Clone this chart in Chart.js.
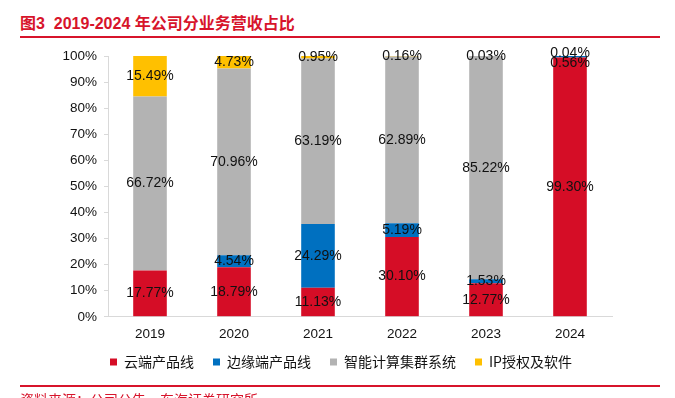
<!DOCTYPE html>
<html>
<head>
<meta charset="utf-8">
<script src="https://cdn.jsdelivr.net/npm/chart.js@4/dist/chart.umd.min.js"></script>
<style>
  html, body { margin: 0; padding: 0; background: #fff; }
  body { width: 675px; height: 398px; position: relative; overflow: hidden; font-family: "Liberation Sans", "Noto Sans CJK SC", sans-serif; }
  #title { position: absolute; left: 20px; top: 10px; font-size: 16px; font-weight: bold; color: #d7142b; white-space: nowrap; font-family: "Liberation Sans", "Noto Sans CJK SC", sans-serif; }
  .rule { position: absolute; left: 20px; width: 640px; height: 2px; background: #d7142b; }
  #source { position: absolute; left: 20px; top: 389px; font-size: 14px; color: #d7142b; white-space: nowrap; font-family: "Noto Sans CJK SC", sans-serif; }
  #wrap { position: absolute; left: 0; top: 0; width: 675px; height: 394px; }
</style>
</head>
<body>
<div id="title">图3&nbsp; 2019-2024 年公司分业务营收占比</div>
<div class="rule" style="top:36px"></div>
<div id="wrap"><canvas id="myChart"></canvas></div>
<div class="rule" style="top:385px"></div>
<div id="source">资料来源：公司公告，东海证券研究所</div>
<script>
(function() {
    'use strict';
    // years and segment shares (%) as printed on the bars
    const years = ['2019', '2020', '2021', '2022', '2023', '2024'];
    const cloudLine = [17.77, 18.79, 11.13, 30.10, 12.77, 99.30];
    const edgeLine = [null, 4.54, 24.29, 5.19, 1.53, 0.56];
    const clusterSystem = [66.72, 70.96, 63.19, 62.89, 85.22, null];
    const ipSoftware = [15.49, 4.73, 0.95, 0.16, 0.03, 0.04];
    const seriesNames = ['云端产品线', '边缘端产品线', '智能计算集群系统', 'IP授权及软件'];
    const seriesColors = ['#d50d26', '#0070c0', '#b3b3b3', '#ffc000'];
    const yTicks = [0, 10, 20, 30, 40, 50, 60, 70, 80, 90, 100];

    const rawSeries = [cloudLine, edgeLine, clusterSystem, ipSoftware];

    // 100% stacked: scale every year to a total of 100
    const totals = years.map(function (y, j) {
      return rawSeries.reduce(function (s, arr) { return s + (arr[j] || 0); }, 0);
    });
    const datasets = rawSeries.map(function (arr, i) {
      return {
        label: seriesNames[i],
        data: arr.map(function (v, j) { return v === null ? null : v / totals[j] * 100; }),
        backgroundColor: seriesColors[i],
        borderWidth: 0,
        categoryPercentage: 1,
        barPercentage: 0.4
      };
    });

    // Draw percentage text in the middle of each segment
    const segmentLabels = {
      id: 'segmentLabels',
      afterLayout: function (chart) {
        // move the legend up and a bit to the right, as in the source chart
        const lg = chart.legend;
        lg.top -= 15;
        lg.bottom -= 15;
        lg.left += 35;
        lg.right += 35;
      },
      afterDatasetsDraw: function (chart) {
        const ctx = chart.ctx;
        ctx.save();
        ctx.font = '14px "Liberation Sans", Arial, sans-serif';
        ctx.fillStyle = '#111';
        ctx.textAlign = 'center';
        ctx.textBaseline = 'middle';
        years.forEach(function (yr, j) {
          const items = [];
          rawSeries.forEach(function (arr, i) {
            if (arr[j] === null) return;
            const bar = chart.getDatasetMeta(i).data[j];
            const p = bar.getProps(['x', 'y', 'base'], true);
            items.push({ x: p.x, y: (p.y + p.base) / 2, text: arr[j].toFixed(2) + '%' });
          });
          items.sort(function (a, b) { return a.y - b.y; });
          // spread labels of tiny neighbouring segments
          for (let k = 1; k < items.length; k++) {
            if (items[k].y - items[k - 1].y < 10) {
              const mid = (items[k].y + items[k - 1].y) / 2;
              items[k - 1].y = mid - 3;
              items[k].y = mid + 7;
            }
          }
          items.forEach(function (it) { ctx.fillText(it.text, it.x, it.y); });
        });
        ctx.restore();
      }
    };

    const chart = document.getElementById('myChart');
    new Chart(chart, {
      type: 'bar',
      data: { labels: years, datasets: datasets },
      plugins: [segmentLabels],
      options: {
        responsive: true,
        maintainAspectRatio: false,
        animation: false,
        layout: { padding: { top: 56, right: 63, left: 0, bottom: 0 } },
        plugins: {
          title: { display: false },
          tooltip: { enabled: false },
          legend: {
            position: 'bottom',
            labels: {
              color: '#111',
              font: { size: 14, family: '"Noto Sans CJK SC", sans-serif' },
              boxWidth: 7,
              boxHeight: 7,
              padding: 19
            }
          }
        },
        scales: {
          x: {
            stacked: true,
            grid: { display: false, drawTicks: false },
            border: { color: '#d9d9d9', width: 1 },
            ticks: { color: '#111', font: { size: 13.5, family: '"Liberation Sans", Arial, sans-serif' }, padding: 9 }
          },
          y: {
            stacked: true,
            min: 0,
            max: 100,
            afterBuildTicks: function (scale) {
              scale.ticks = yTicks.map(function (v) { return { value: v }; });
            },
            afterFit: function (scale) { scale.width = 108; },
            grid: { drawOnChartArea: false, drawTicks: true, tickLength: 4, color: '#d9d9d9' },
            border: { color: '#d9d9d9', width: 1 },
            ticks: {
              color: '#111',
              font: { size: 13.5, family: '"Liberation Sans", Arial, sans-serif' },
              padding: 7,
              callback: function (v) { return v + '%'; }
            }
          }
        }
      }
    });
})();
</script>
</body>
</html>
